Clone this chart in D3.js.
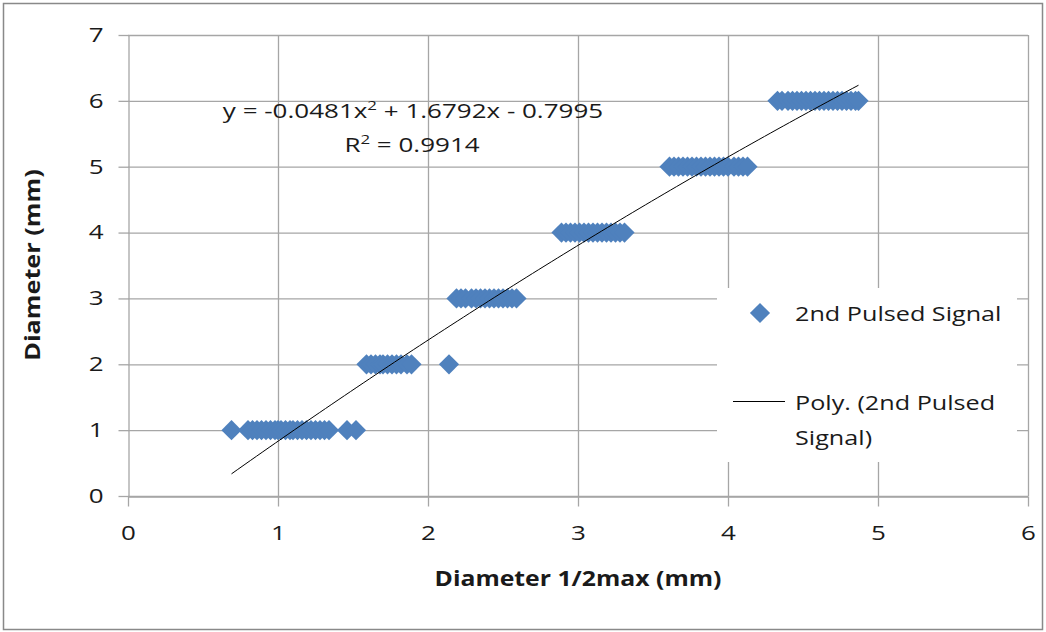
<!DOCTYPE html>
<html><head><meta charset="utf-8">
<script src="https://cdn.jsdelivr.net/npm/d3@7"></script>
<style>body{margin:0;background:#fff}svg{display:block}text{font-family:"Open Sans",Calibri,sans-serif}</style>
</head><body><svg id="c" width="1046" height="632"></svg>
<script>
// data
const x1 = [0.69,0.80,0.83,0.86,0.89,0.92,0.95,0.98,1.00,1.02,1.05,1.08,1.10,1.13,1.16,1.19,1.22,1.25,1.28,1.31,1.34,1.46,1.52];
const x2 = [1.59,1.62,1.65,1.68,1.70,1.73,1.76,1.79,1.82,1.86,1.89,2.14];
const x3 = [2.19,2.22,2.25,2.29,2.32,2.35,2.38,2.41,2.44,2.47,2.50,2.53,2.56,2.59];
const x4 = [2.89,2.92,2.95,2.98,3.01,3.04,3.07,3.10,3.13,3.16,3.19,3.22,3.25,3.28,3.31];
const x5 = [3.61,3.64,3.67,3.70,3.73,3.76,3.79,3.82,3.85,3.88,3.91,3.94,3.97,4.00,4.04,4.07,4.10,4.13];
const x6 = [4.33,4.36,4.40,4.43,4.46,4.49,4.52,4.55,4.58,4.61,4.64,4.67,4.70,4.73,4.76,4.79,4.82,4.85,4.87];
const yLevels = [1,2,3,4,5,6];
const coeffs = [-0.0481, 1.6792, -0.7995]; // a, b, c
const xTicks = [0,1,2,3,4,5,6];
const yTicks = [0,1,2,3,4,5,6,7];
const seriesName = "2nd Pulsed Signal";
const trendName = ["Poly. (2nd Pulsed", "Signal)"];
const eqText = ["y = -0.0481x", "2", " + 1.6792x - 0.7995"];
const r2Text = "0.9914";

const groups = [x1,x2,x3,x4,x5,x6];
const points = [];
groups.forEach((g,i)=>g.forEach(v=>points.push({x:v,y:yLevels[i]})));

const svg = d3.select("#c");
svg.append("rect").attr("x",3.5).attr("y",3.5).attr("width",1039).attr("height",626)
  .attr("fill","#fff").attr("stroke","#898989").attr("stroke-width",1.5);

const L=128,R=1028,T=35,B=496;
const xs = d3.scaleLinear().domain([0,6]).range([L,R]);
const ys = d3.scaleLinear().domain([0,7]).range([B,T]);
const grid="#a6a6a6";
const ink="#1a1a1a";

// helper: text widened along its reading direction
function addText(parent,x,y,size,sx,opts={}){
  const t=parent.append("text").attr("transform",`translate(${x},${y})${opts.rot?" rotate("+opts.rot+")":""} scale(${sx},1)`)
    .attr("font-size",size).attr("fill",ink).attr("text-anchor",opts.anchor||"start");
  if(opts.bold) t.attr("font-weight","bold");
  return t;
}

// gridlines
svg.append("g").selectAll("line").data(yTicks).join("line")
  .attr("x1",L).attr("x2",R).attr("y1",d=>ys(d)+0.5).attr("y2",d=>ys(d)+0.5)
  .attr("stroke",grid).attr("stroke-width",1.3);
svg.append("g").selectAll("line").data(xTicks.slice(1)).join("line")
  .attr("x1",d=>xs(d)+0.5).attr("x2",d=>xs(d)+0.5).attr("y1",T).attr("y2",B)
  .attr("stroke",grid).attr("stroke-width",1.3);

// axes
const fmt=d3.format("d");
const xa = svg.append("g").attr("transform",`translate(0,${B+0.5})`)
  .call(d3.axisBottom(xs).tickValues(xTicks).tickFormat(fmt).tickSize(10).tickSizeOuter(0).tickPadding(19));
const ya = svg.append("g").attr("transform",`translate(${L+0.5},0)`)
  .call(d3.axisLeft(ys).tickValues(yTicks).tickFormat(fmt).tickSize(10).tickSizeOuter(0).tickPadding(0));
[xa,ya].forEach(a=>{
  a.select(".domain").attr("stroke",grid).attr("stroke-width",1.3);
  a.selectAll(".tick line").attr("stroke",grid).attr("stroke-width",1.3);
  a.selectAll(".tick text").attr("font-size",20).attr("fill",ink)
   .style("font-family","'Open Sans',sans-serif");
});
xa.selectAll(".tick text").attr("transform","scale(1.3,1)");
ya.selectAll(".tick text").attr("x",0).attr("transform","translate(-25,0) scale(1.3,1)");

// markers
const diamond = d3.symbol().type(d3.symbolDiamond2).size(260);
svg.append("g").selectAll("path").data(points).join("path")
  .attr("transform",d=>`translate(${xs(d.x)},${ys(d.y)})`)
  .attr("d",diamond).attr("fill","#4f81bd");

// trendline
const xmin=d3.min(points,d=>d.x), xmax=d3.max(points,d=>d.x);
const f = x=>coeffs[0]*x*x+coeffs[1]*x+coeffs[2];
const tl = d3.range(0,101).map(i=>{const x=xmin+(xmax-xmin)*i/100;return [xs(x),ys(f(x))];});
svg.append("path").attr("d",d3.line()(tl)).attr("fill","none").attr("stroke","#000").attr("stroke-width",1);

// equation
const eq = addText(svg,413,118,20,1.3,{anchor:"middle"});
eq.append("tspan").text(eqText[0]);
eq.append("tspan").text(eqText[1]).attr("font-size",13).attr("dy",-8);
eq.append("tspan").text(eqText[2]).attr("dy",8);
const r2 = addText(svg,412,152,20,1.3,{anchor:"middle"});
r2.append("tspan").text("R");
r2.append("tspan").text("2").attr("font-size",13).attr("dy",-8);
r2.append("tspan").text(" = "+r2Text).attr("dy",8);

// legend
const lg = svg.append("g");
lg.append("rect").attr("x",717).attr("y",288).attr("width",300).attr("height",174).attr("fill","#fff");
lg.append("path").attr("transform","translate(760,313)").attr("d",diamond).attr("fill","#4f81bd");
addText(lg,795,321,20,1.26).text(seriesName);
lg.append("line").attr("x1",733).attr("x2",785).attr("y1",401.5).attr("y2",401.5).attr("stroke","#000").attr("stroke-width",1);
addText(lg,795,410,20,1.26).text(trendName[0]);
addText(lg,795,445,20,1.26).text(trendName[1]);

// axis titles
addText(svg,578,586,21,1.18,{anchor:"middle",bold:true}).text("Diameter 1/2max (mm)");
addText(svg,40,265,21,1.2,{anchor:"middle",bold:true,rot:-90}).text("Diameter (mm)");
</script></body></html>
